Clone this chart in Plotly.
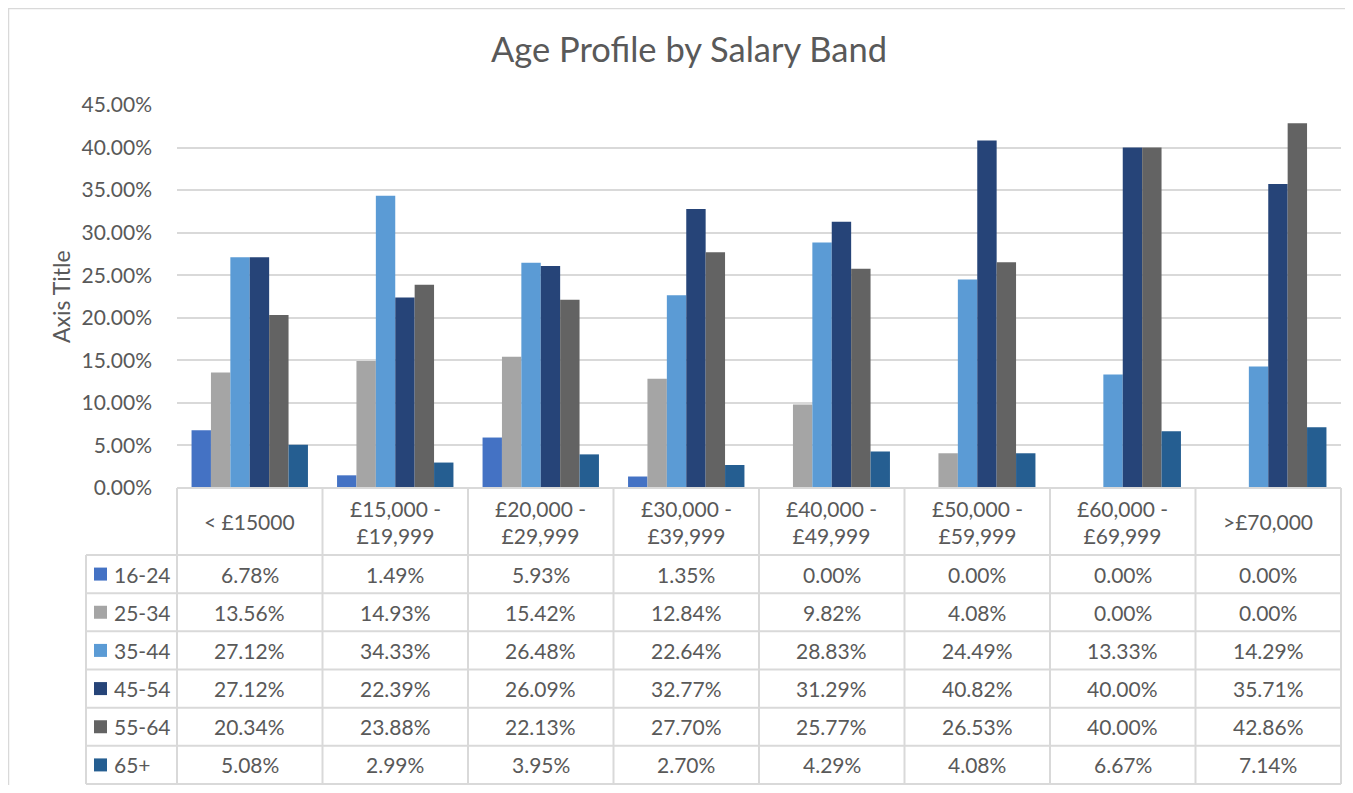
import plotly.graph_objects as go

# ---------------- data ----------------
categories = ["< £15000", "£15,000 - £19,999", "£20,000 - £29,999", "£30,000 - £39,999",
              "£40,000 - £49,999", "£50,000 - £59,999", "£60,000 - £69,999", ">£70,000"]
age_groups = ["16-24", "25-34", "35-44", "45-54", "55-64", "65+"]
v_16_24 = [6.78, 1.49, 5.93, 1.35, 0.00, 0.00, 0.00, 0.00]
v_25_34 = [13.56, 14.93, 15.42, 12.84, 9.82, 4.08, 0.00, 0.00]
v_35_44 = [27.12, 34.33, 26.48, 22.64, 28.83, 24.49, 13.33, 14.29]
v_45_54 = [27.12, 22.39, 26.09, 32.77, 31.29, 40.82, 40.00, 35.71]
v_55_64 = [20.34, 23.88, 22.13, 27.70, 25.77, 26.53, 40.00, 42.86]
v_65_plus = [5.08, 2.99, 3.95, 2.70, 4.29, 4.08, 6.67, 7.14]
series = [v_16_24, v_25_34, v_35_44, v_45_54, v_55_64, v_65_plus]
colors = ["#4472C4", "#A5A5A5", "#5B9BD5", "#264478", "#636363", "#255E91"]
y_ticks = [0, 0.05, 0.10, 0.15, 0.20, 0.25, 0.30, 0.35, 0.40, 0.45]

# ---------------- geometry (window pixel coords, page body has 8px margin) ----------------
O = 8
W, H = 1337, 777
L, R, T, B = 169, 4, 97, 297
PW, PH = W - L - R, H - T - B
FONT = "Lato"
TXT = "#595959"
GRID = "#D9D9D9"


def px_x(p):
    return (p - O - L) / PW


def px_y(p):
    return (H - B - (p - O)) / PH


fig = go.Figure()
for name, vals, col in zip(age_groups, series, colors):
    fig.add_trace(go.Bar(x=categories, y=[v / 100 for v in vals], name=name,
                         marker=dict(color=col, line=dict(width=0))))

shapes = []
annotations = []

# outer chart border (only top/left visible in frame)
shapes.append(dict(type="rect", xref="paper", yref="paper",
                   x0=px_x(8.5), x1=px_x(1400), y0=px_y(850), y1=px_y(8.5),
                   line=dict(color=GRID, width=1.5), layer="below"))

# table geometry
head_top, head_bot, tab_bot = 488, 555, 784
row_h = (tab_bot - head_bot) / 6
row_edges = [head_bot + row_h * i for i in range(7)]
legend_left = 86
n = len(categories)

# horizontal lines
shapes.append(dict(type="line", xref="paper", yref="paper", x0=0, x1=1,
                   y0=px_y(head_top), y1=px_y(head_top), line=dict(color=GRID, width=2)))
for ye in row_edges:
    shapes.append(dict(type="line", xref="paper", yref="paper", x0=px_x(legend_left), x1=1,
                       y0=px_y(ye), y1=px_y(ye), line=dict(color=GRID, width=2)))
# vertical lines
shapes.append(dict(type="line", xref="paper", yref="paper", x0=px_x(legend_left), x1=px_x(legend_left),
                   y0=px_y(row_edges[0]), y1=px_y(row_edges[-1]), line=dict(color=GRID, width=2)))
for k in range(n + 1):
    shapes.append(dict(type="line", xref="paper", yref="paper", x0=k / n, x1=k / n,
                       y0=px_y(head_top), y1=px_y(row_edges[-1]), line=dict(color=GRID, width=2)))

# header labels
for i, c in enumerate(categories):
    annotations.append(dict(x=(i + 0.5) / n, y=px_y((head_top + head_bot) / 2), xref="paper", yref="paper",
                            text=c.replace(" - ", " -<br>"), showarrow=False,
                            xanchor="center", yanchor="middle",
                            font=dict(family=FONT, size=21, color=TXT), align="center"))

# rows
for r, (name, vals, col) in enumerate(zip(age_groups, series, colors)):
    yc = (row_edges[r] + row_edges[r + 1]) / 2
    # legend key
    shapes.append(dict(type="rect", xref="paper", yref="paper",
                       x0=px_x(94), x1=px_x(107), y0=px_y(yc + 6.5), y1=px_y(yc - 6.5),
                       fillcolor=col, line=dict(width=0)))
    annotations.append(dict(x=px_x(112), y=px_y(yc), xref="paper", yref="paper", text=name,
                            showarrow=False, xanchor="left", yanchor="middle",
                            font=dict(family=FONT, size=21, color=TXT)))
    for i, v in enumerate(vals):
        annotations.append(dict(x=(i + 0.5) / n, y=px_y(yc), xref="paper", yref="paper",
                                text=f"{v:.2f}%", showarrow=False,
                                xanchor="center", yanchor="middle",
                                font=dict(family=FONT, size=21, color=TXT)))

# axis title
annotations.append(dict(x=px_x(61), y=px_y(296), xref="paper", yref="paper", text="Axis Title",
                        textangle=-90, showarrow=False, xanchor="center", yanchor="middle",
                        font=dict(family=FONT, size=23, color=TXT)))

fig.update_layout(
    width=W, height=H,
    margin=dict(l=L, r=R, t=T, b=B, pad=0),
    paper_bgcolor="white", plot_bgcolor="white",
    barmode="group", bargap=0.2, bargroupgap=0,
    showlegend=False,
    title=dict(text="Age Profile by Salary Band", x=(689 - O) / W, xanchor="center",
               y=1 - (50 - O) / H, yanchor="middle", yref="container",
               font=dict(family=FONT, size=34.5, color=TXT)),
    xaxis=dict(showticklabels=False, showgrid=False, zeroline=False, showline=False, ticks=""),
    yaxis=dict(range=[0, 0.45], tickvals=y_ticks, tickformat=".2%", showgrid=True, gridcolor=GRID,
               gridwidth=1.5, zeroline=False, showline=False, ticks="", ticklabelstandoff=24,
               tickfont=dict(family=FONT, size=21, color=TXT)),
    shapes=shapes, annotations=annotations,
)

fig.write_html("out.html")
